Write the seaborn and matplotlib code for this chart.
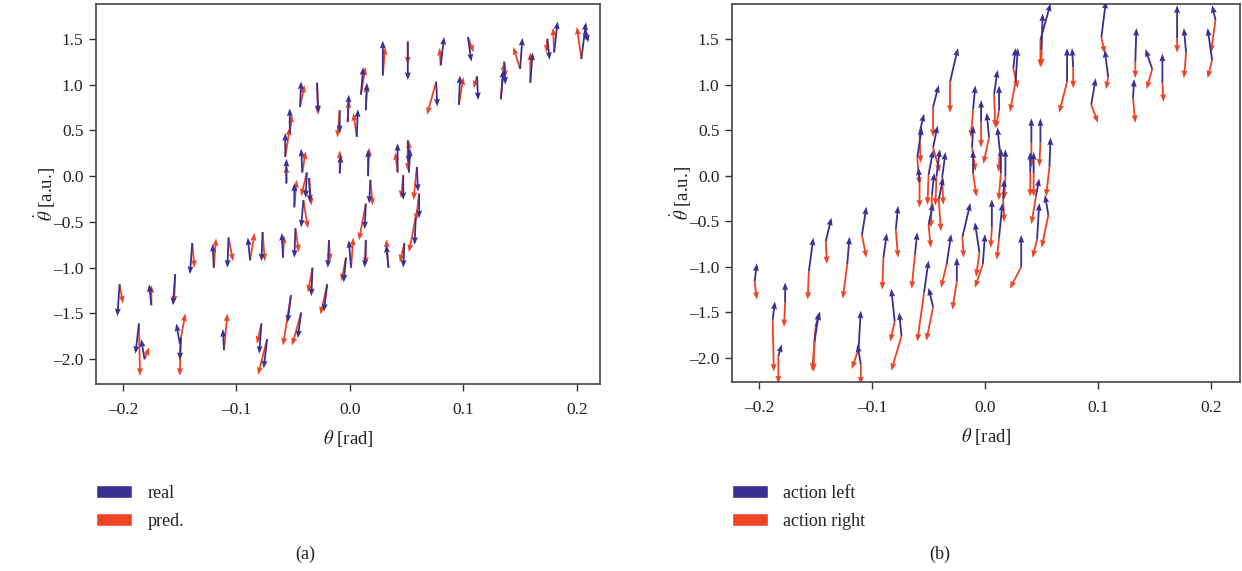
"""Quiver plots of the pole state transitions: (a) real vs predicted, (b) action left vs right."""
import numpy as np
import seaborn as sns
import matplotlib.pyplot as plt
from matplotlib.patches import Patch
from matplotlib.ticker import FuncFormatter

# ---- (a) real vs. pred. : origin of each arrow pair and its two displacements ----
a_theta = [-0.186, -0.181, -0.203, -0.175, -0.154, -0.139, -0.120, -0.107, -0.088, -0.077,
           -0.059, -0.048, -0.033, -0.0185, -0.0035, 0.001, 0.014, 0.014, 0.034, 0.048,
           0.061, 0.058, -0.150, -0.149, -0.111, -0.078, -0.073, -0.052, -0.043, -0.020,
           -0.044, -0.029, -0.057, -0.053, -0.056, -0.009, -0.009, -0.002, 0.006, 0.0097,
           0.014, 0.029, 0.051, 0.076, 0.080, 0.096, 0.104, 0.112, 0.133, 0.136,
           0.150, 0.159, 0.174, 0.180, 0.204, 0.207, -0.042, -0.049, -0.041, -0.036,
           -0.038, 0.016, 0.018, 0.042, 0.051, 0.052, 0.047, 0.059]
a_thetadot = [-1.61, -2.00, -1.18, -1.41, -1.07, -0.73, -1.00, -0.67, -0.92, -0.61,
              -0.89, -0.57, -1.00, -0.70, -0.89, -1.00, -0.30, -0.70, -1.00, -0.73,
              -0.19, -0.45, -1.83, -1.76, -1.90, -1.61, -1.78, -1.30, -1.49, -1.18,
              0.755, 1.02, 0.21, 0.47, -0.08, 0.72, 0.03, 0.59, 0.43, 0.89,
              0.72, 1.10, 1.47, 1.03, 1.21, 0.78, 1.52, 1.09, 0.84, 1.25,
              1.17, 1.02, 1.50, 1.35, 1.28, 1.65, 0.04, -0.34, -0.26, -0.02,
              0.04, 0.00, -0.04, 0.04, 0.39, 0.04, 0.01, 0.10]
real_dtheta = [-0.003, -0.003, -0.002, -0.002, -0.002, -0.002, -0.001, -0.001, -0.002, -0.001,
               -0.001, -0.001, -0.001, -0.001, -0.002, -0.002, -0.001, -0.001, -0.002, -0.001,
               0.0, -0.001, -0.003, -0.001, -0.001, -0.002, -0.003, -0.003, -0.003, -0.003,
               0.001, 0.001, 0.0, 0.0, 0.0, 0.0, 0.001, 0.001, 0.001, 0.002,
               0.001, 0.0, 0.0, 0.001, 0.003, 0.001, 0.003, 0.001, 0.002, 0.001,
               0.002, 0.002, 0.002, 0.003, 0.004, 0.003, -0.001, 0.0, -0.002, 0.001,
               -0.001, 0.0, -0.001, 0.0, 0.001, 0.001, 0.0, 0.001]
real_dthetadot = [-0.33, 0.22, -0.35, 0.23, -0.34, -0.34, 0.26, -0.33, 0.25, -0.32,
                  0.27, -0.32, -0.31, -0.30, -0.27, 0.30, -0.28, -0.30, 0.25, -0.27,
                  -0.27, -0.30, 0.22, -0.25, 0.23, -0.33, -0.32, -0.30, -0.28, -0.30,
                  0.28, -0.33, 0.26, 0.27, 0.27, -0.25, 0.20, 0.30, 0.30, 0.30,
                  0.30, 0.38, -0.42, -0.27, 0.31, 0.32, -0.27, -0.26, 0.32, -0.25,
                  0.34, 0.33, -0.23, 0.34, 0.40, -0.19, 0.26, 0.26, -0.30, -0.27,
                  -0.28, 0.29, -0.26, 0.32, -0.25, 0.26, -0.27, -0.27]
pred_dtheta = [0.001, 0.004, 0.003, 0.0, -0.001, 0.002, 0.002, 0.004, 0.004, 0.002,
               0.001, 0.003, -0.004, 0.001, -0.004, 0.002, -0.006, 0.0, -0.002, -0.004,
               -0.003, -0.006, 0.005, -0.001, 0.003, -0.004, -0.008, -0.007, -0.008, -0.006,
               0.004, 0.001, 0.004, 0.002, 0.0, -0.002, 0.0, 0.001, -0.003, 0.004,
               0.001, 0.002, 0.0, -0.008, -0.001, 0.004, 0.005, -0.003, 0.003, 0.001,
               -0.006, 0.0, -0.001, -0.001, -0.004, 0.001, 0.003, 0.002, 0.004, 0.002,
               -0.005, 0.001, 0.002, -0.002, 0.0, 0.0, -0.002, -0.003]
pred_dthetadot = [-0.57, 0.13, -0.21, 0.22, -0.32, -0.27, 0.32, -0.26, 0.30, -0.32,
                  0.24, -0.26, -0.27, -0.23, -0.26, 0.33, -0.40, -0.27, 0.31, -0.21,
                  -0.30, -0.38, 0.33, -0.42, 0.40, -0.22, -0.39, -0.55, -0.36, -0.33,
                  0.24, -0.35, 0.32, 0.20, 0.20, -0.30, 0.25, 0.24, 0.26, 0.30,
                  0.28, 0.31, -0.25, -0.36, 0.19, 0.30, -0.17, -0.13, 0.40, -0.18,
                  0.24, 0.33, -0.15, 0.27, 0.35, -0.17, 0.23, 0.30, -0.31, -0.30,
                  -0.26, 0.31, -0.28, 0.22, -0.33, 0.35, -0.25, -0.36]

# ---- (b) action left vs. action right ----
b_theta = [-0.031, -0.046, -0.058, -0.060, -0.058, -0.046, -0.0106, -0.0035, -0.0115, 0.0035,
           -0.0106, -0.050, -0.043, -0.038, -0.047, -0.041, -0.050, -0.020, -0.005, -0.002,
           0.008, 0.0124, 0.013, 0.014, 0.018, 0.025, 0.027, 0.049, 0.050, 0.0726,
           0.078, 0.103, 0.109, 0.094, 0.133, 0.131, 0.148, 0.157, 0.170, 0.178,
           0.204, 0.201, 0.041, 0.049, 0.057, 0.040, 0.043, 0.006, 0.0124, 0.016,
           0.032, 0.046, 0.056, 0.045, -0.204, -0.188, -0.177, -0.183, -0.156, -0.141,
           -0.150, -0.151, -0.122, -0.109, -0.112, -0.110, -0.090, -0.079, -0.080, -0.074,
           -0.062, -0.054, -0.046, -0.034, -0.025]
b_thetadot = [1.03, 0.755, 0.47, 0.20, -0.07, 0.31, 0.73, 0.59, 0.31, 0.42,
              0.03, 0.01, -0.01, -0.02, -0.21, -0.26, -0.54, -0.67, -0.84, -0.97,
              0.89, 0.72, 0.28, 0.03, -0.01, 1.18, 1.03, 1.49, 1.38, 1.03,
              1.19, 1.52, 1.08, 0.78, 1.25, 0.85, 1.17, 1.02, 1.51, 1.35,
              1.71, 1.27, 0.36, 0.36, 0.10, 0.04, 0.03, -0.57, -0.68, -0.26,
              -1.00, -0.70, -0.43, -0.23, -1.16, -1.58, -1.39, -1.98, -1.05, -0.72,
              -1.65, -1.82, -0.97, -0.65, -1.90, -2.07, -0.90, -0.59, -1.60, -1.76,
              -0.86, -1.28, -1.44, -0.97, -1.16]
left_dtheta = [0.007, 0.005, 0.004, 0.004, -0.001, 0.004, 0.002, 0.0, 0.001, -0.002,
               0.0, 0.004, 0.003, 0.003, 0.002, 0.004, 0.004, 0.007, -0.004, 0.002,
               0.003, 0.0, -0.002, 0.0, 0.0, 0.002, 0.002, 0.009, 0.001, 0.0,
               -0.001, 0.004, -0.003, 0.004, 0.001, 0.001, -0.006, 0.0, 0.0, -0.002,
               -0.003, -0.004, 0.0, 0.0, 0.001, 0.0, 0.0, 0.0, 0.003, 0.001,
               0.0, 0.002, -0.003, 0.003, 0.002, 0.002, 0.0, 0.003, 0.004, 0.005,
               0.004, 0.004, 0.002, 0.004, 0.002, -0.003, 0.003, 0.002, -0.003, -0.002,
               0.002, 0.004, -0.004, 0.004, 0.0]
left_dthetadot = [0.37, 0.24, 0.21, 0.33, 0.16, 0.24, 0.26, 0.24, 0.24, 0.27,
                  0.25, 0.27, 0.30, 0.28, 0.24, 0.24, 0.24, 0.37, 0.33, 0.33,
                  0.27, 0.27, 0.25, 0.27, 0.30, 0.22, 0.37, 0.40, 0.40, 0.37,
                  0.21, 0.40, 0.30, 0.29, 0.37, 0.21, 0.22, 0.32, 0.36, 0.27,
                  0.16, 0.35, 0.27, 0.27, 0.32, 0.22, 0.23, 0.31, 0.38, 0.22,
                  0.35, 0.40, 0.22, 0.20, 0.20, 0.20, 0.22, 0.13, 0.37, 0.26,
                  0.16, 0.32, 0.30, 0.31, 0.42, 0.22, 0.27, 0.26, 0.36, 0.26,
                  0.24, 0.35, 0.21, 0.33, 0.26]
right_dtheta = [0.0, 0.0, 0.001, 0.002, 0.0, 0.006, -0.002, 0.0, 0.003, -0.005,
                0.003, -0.001, -0.001, 0.001, -0.001, 0.002, 0.002, 0.001, -0.003, -0.007,
                0.001, -0.003, -0.001, -0.002, -0.001, 0.004, -0.005, 0.0, 0.0, -0.007,
                0.0, 0.003, -0.002, 0.006, 0.0, 0.002, -0.005, 0.001, 0.0, -0.002,
                -0.004, -0.004, 0.0, -0.001, -0.003, 0.0, 0.0, -0.001, -0.002, 0.001,
                -0.010, -0.004, -0.006, -0.004, 0.002, 0.001, -0.001, 0.0, -0.001, 0.001,
                -0.003, -0.001, -0.004, 0.004, -0.006, 0.0, -0.001, 0.002, -0.004, -0.009,
                -0.003, -0.006, -0.006, -0.005, -0.004]
right_dthetadot = [-0.34, -0.33, -0.33, -0.30, -0.28, -0.27, -0.31, -0.28, -0.26, -0.29,
                   -0.26, -0.33, -0.32, -0.30, -0.36, -0.35, -0.25, -0.23, -0.27, -0.26,
                   -0.36, -0.20, -0.24, -0.30, -0.25, -0.22, -0.33, -0.30, -0.18, -0.34,
                   -0.23, -0.18, -0.13, -0.20, -0.18, -0.27, -0.22, -0.21, -0.16, -0.28,
                   -0.36, -0.20, -0.27, -0.26, -0.33, -0.27, -0.26, -0.22, -0.24, -0.25,
                   -0.24, -0.20, -0.36, -0.30, -0.20, -0.57, -0.27, -0.30, -0.31, -0.25,
                   -0.49, -0.33, -0.38, -0.25, -0.22, -0.22, -0.35, -0.31, -0.22, -0.38,
                   -0.38, -0.54, -0.37, -0.26, -0.31]

x_ticks = [-0.2, -0.1, 0.0, 0.1, 0.2]
y_ticks = [-2.0, -1.5, -1.0, -0.5, 0.0, 0.5, 1.0, 1.5]

BLUE = "#3a3093"
RED = "#ef4424"

sns.set_theme(style="ticks")
plt.rcParams['font.family'] = ['Liberation Serif', 'DejaVu Serif']
plt.rcParams['mathtext.fontset'] = 'stix'

fig = plt.figure(figsize=(12.42, 5.71), dpi=100)
ax_a = fig.add_axes([0.0773, 0.3275, 0.4057, 0.6655])
ax_b = fig.add_axes([0.5894, 0.3310, 0.4090, 0.6620])

quiver_kw = dict(angles='xy', scale_units='xy', scale=1, width=0.0036,
                 headwidth=3.3, headlength=4.3, headaxislength=3.9)

# en dash for negative numbers, like the original figure
dash_fmt = FuncFormatter(lambda v, _: f"{v:.1f}".replace("-", "\u2013"))


def draw_panel(ax, x, y, u1, v1, u2, v2, labels, xlim, ylim, leg_x):
    ax.quiver(x, y, u1, v1, color=BLUE, zorder=3, **quiver_kw)
    ax.quiver(x, y, u2, v2, color=RED, zorder=2, **quiver_kw)
    ax.set_xlim(*xlim)
    ax.set_ylim(*ylim)
    ax.set_xticks(x_ticks)
    ax.set_yticks(y_ticks)
    ax.xaxis.set_major_formatter(dash_fmt)
    ax.yaxis.set_major_formatter(dash_fmt)
    ax.tick_params(axis='both', labelsize=12.5, length=5, width=1, color='#333333',
                   direction='out', labelcolor='#222222')
    ax.tick_params(axis='x', pad=8)
    ax.tick_params(axis='y', pad=4)
    for sp in ax.spines.values():
        sp.set_visible(True)
        sp.set_color('#444444')
        sp.set_linewidth(1.2)
    ax.set_xlabel(r'$\theta$ [rad]', fontsize=13.5, labelpad=7, color='#222222')
    ax.set_ylabel(r'$\dot{\theta}$ [a.u.]', fontsize=13.5, color='#222222')
    ax.yaxis.set_label_coords(-0.075, 0.5)
    handles = [Patch(facecolor=BLUE, label=labels[0]), Patch(facecolor=RED, label=labels[1])]
    fig.legend(handles=handles, loc='upper left', bbox_to_anchor=(leg_x, 0.151), frameon=False,
               fontsize=13, handlelength=2.0, handleheight=0.7, handletextpad=0.85,
               labelspacing=0.62, borderaxespad=0, borderpad=0, labelcolor='#222222')


draw_panel(ax_a, a_theta, a_thetadot, real_dtheta, real_dthetadot, pred_dtheta, pred_dthetadot,
           ['real', 'pred.'], (-0.2238, 0.2203), (-2.27, 1.88), 96 / 1242)
draw_panel(ax_b, b_theta, b_thetadot, left_dtheta, left_dthetadot, right_dtheta, right_dthetadot,
           ['action left', 'action right'], (-0.224, 0.2257), (-2.263, 1.884), 732 / 1242)

fig.text(0.2456, 0.030, '(a)', ha='center', va='center', fontsize=13, color='#222222')
fig.text(0.757, 0.030, '(b)', ha='center', va='center', fontsize=13, color='#222222')

fig.savefig('out.png', dpi=100)
